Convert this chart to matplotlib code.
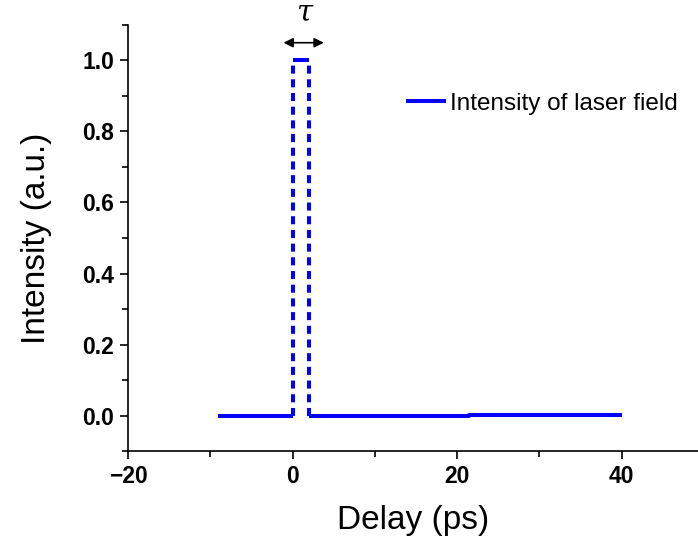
import matplotlib
matplotlib.use("Agg")
import matplotlib.pyplot as plt
from matplotlib.ticker import MultipleLocator, FormatStrFormatter

# pulse trace: solid horizontal pieces, dashed vertical edges
baseline_before_x = [-9.0, 0.0]
baseline_before_y = [0.0, 0.0]
pulse_top_x = [0.0, 2.0]
pulse_top_y = [1.0, 1.0]
baseline_after_x = [2.0, 21.5, 21.5, 40.0]
baseline_after_y = [0.0, 0.0, 0.002, 0.002]
edge_x = [0.0, 2.0]
edge_low = 0.0
edge_high = 1.0

tau_arrow = (-1.1, 3.8)

BLUE = "#0000ff"
plt.rcParams["font.family"] = ["Liberation Sans", "DejaVu Sans"]
plt.rcParams["mathtext.fontset"] = "dejavuserif"

fig = plt.figure(figsize=(6.98, 5.43), dpi=100, facecolor="white")
ax = fig.add_axes([0.1834, 0.1694, 0.8166, 0.7846])

ax.plot(baseline_before_x, baseline_before_y, color=BLUE, lw=2.9,
        solid_capstyle="butt", label="Intensity of laser field")
ax.plot(pulse_top_x, pulse_top_y, color=BLUE, lw=2.9, solid_capstyle="butt")
ax.plot(baseline_after_x, baseline_after_y, color=BLUE, lw=2.9, solid_capstyle="butt")
for ex in edge_x:
    ax.plot([ex, ex], [edge_low, edge_high], color=BLUE, lw=2.9,
            linestyle=(0, (2.0, 1.4)))

ax.set_xlim(-20, 49.3)
ax.set_ylim(-0.1, 1.1)
ax.xaxis.set_major_locator(MultipleLocator(20))
ax.xaxis.set_minor_locator(MultipleLocator(10))
ax.yaxis.set_major_locator(MultipleLocator(0.2))
ax.yaxis.set_minor_locator(MultipleLocator(0.1))
ax.yaxis.set_major_formatter(FormatStrFormatter("%.1f"))

for side in ("top", "right"):
    ax.spines[side].set_visible(False)
for side in ("left", "bottom"):
    ax.spines[side].set_linewidth(1.2)
ax.tick_params(which="major", direction="out", length=6, width=1.2,
               labelsize=16.5, pad=4)
ax.tick_params(which="minor", direction="out", length=4, width=1.2)
for lab in ax.get_xticklabels() + ax.get_yticklabels():
    lab.set_fontweight("bold")

ax.set_xlabel("Delay (ps)", fontsize=24, labelpad=12)
ax.set_ylabel("Intensity (a.u.)", fontsize=24, labelpad=22)

ax.legend(loc="center left", bbox_to_anchor=(0.488, 0.8146), frameon=False,
          fontsize=17.5, handlelength=1.65, handletextpad=0.15,
          borderaxespad=0, borderpad=0)

ax.annotate("", xy=(tau_arrow[0], 1.05), xytext=(tau_arrow[1], 1.05),
            arrowprops=dict(arrowstyle="<|-|>", color="black", lw=1.2,
                            mutation_scale=14, shrinkA=0, shrinkB=0),
            annotation_clip=False)
ax.text(1.5, 1.133, r"$\tau$", fontsize=21,
        ha="center", va="center", clip_on=False)

fig.savefig("out.png", dpi=100, facecolor="white")
